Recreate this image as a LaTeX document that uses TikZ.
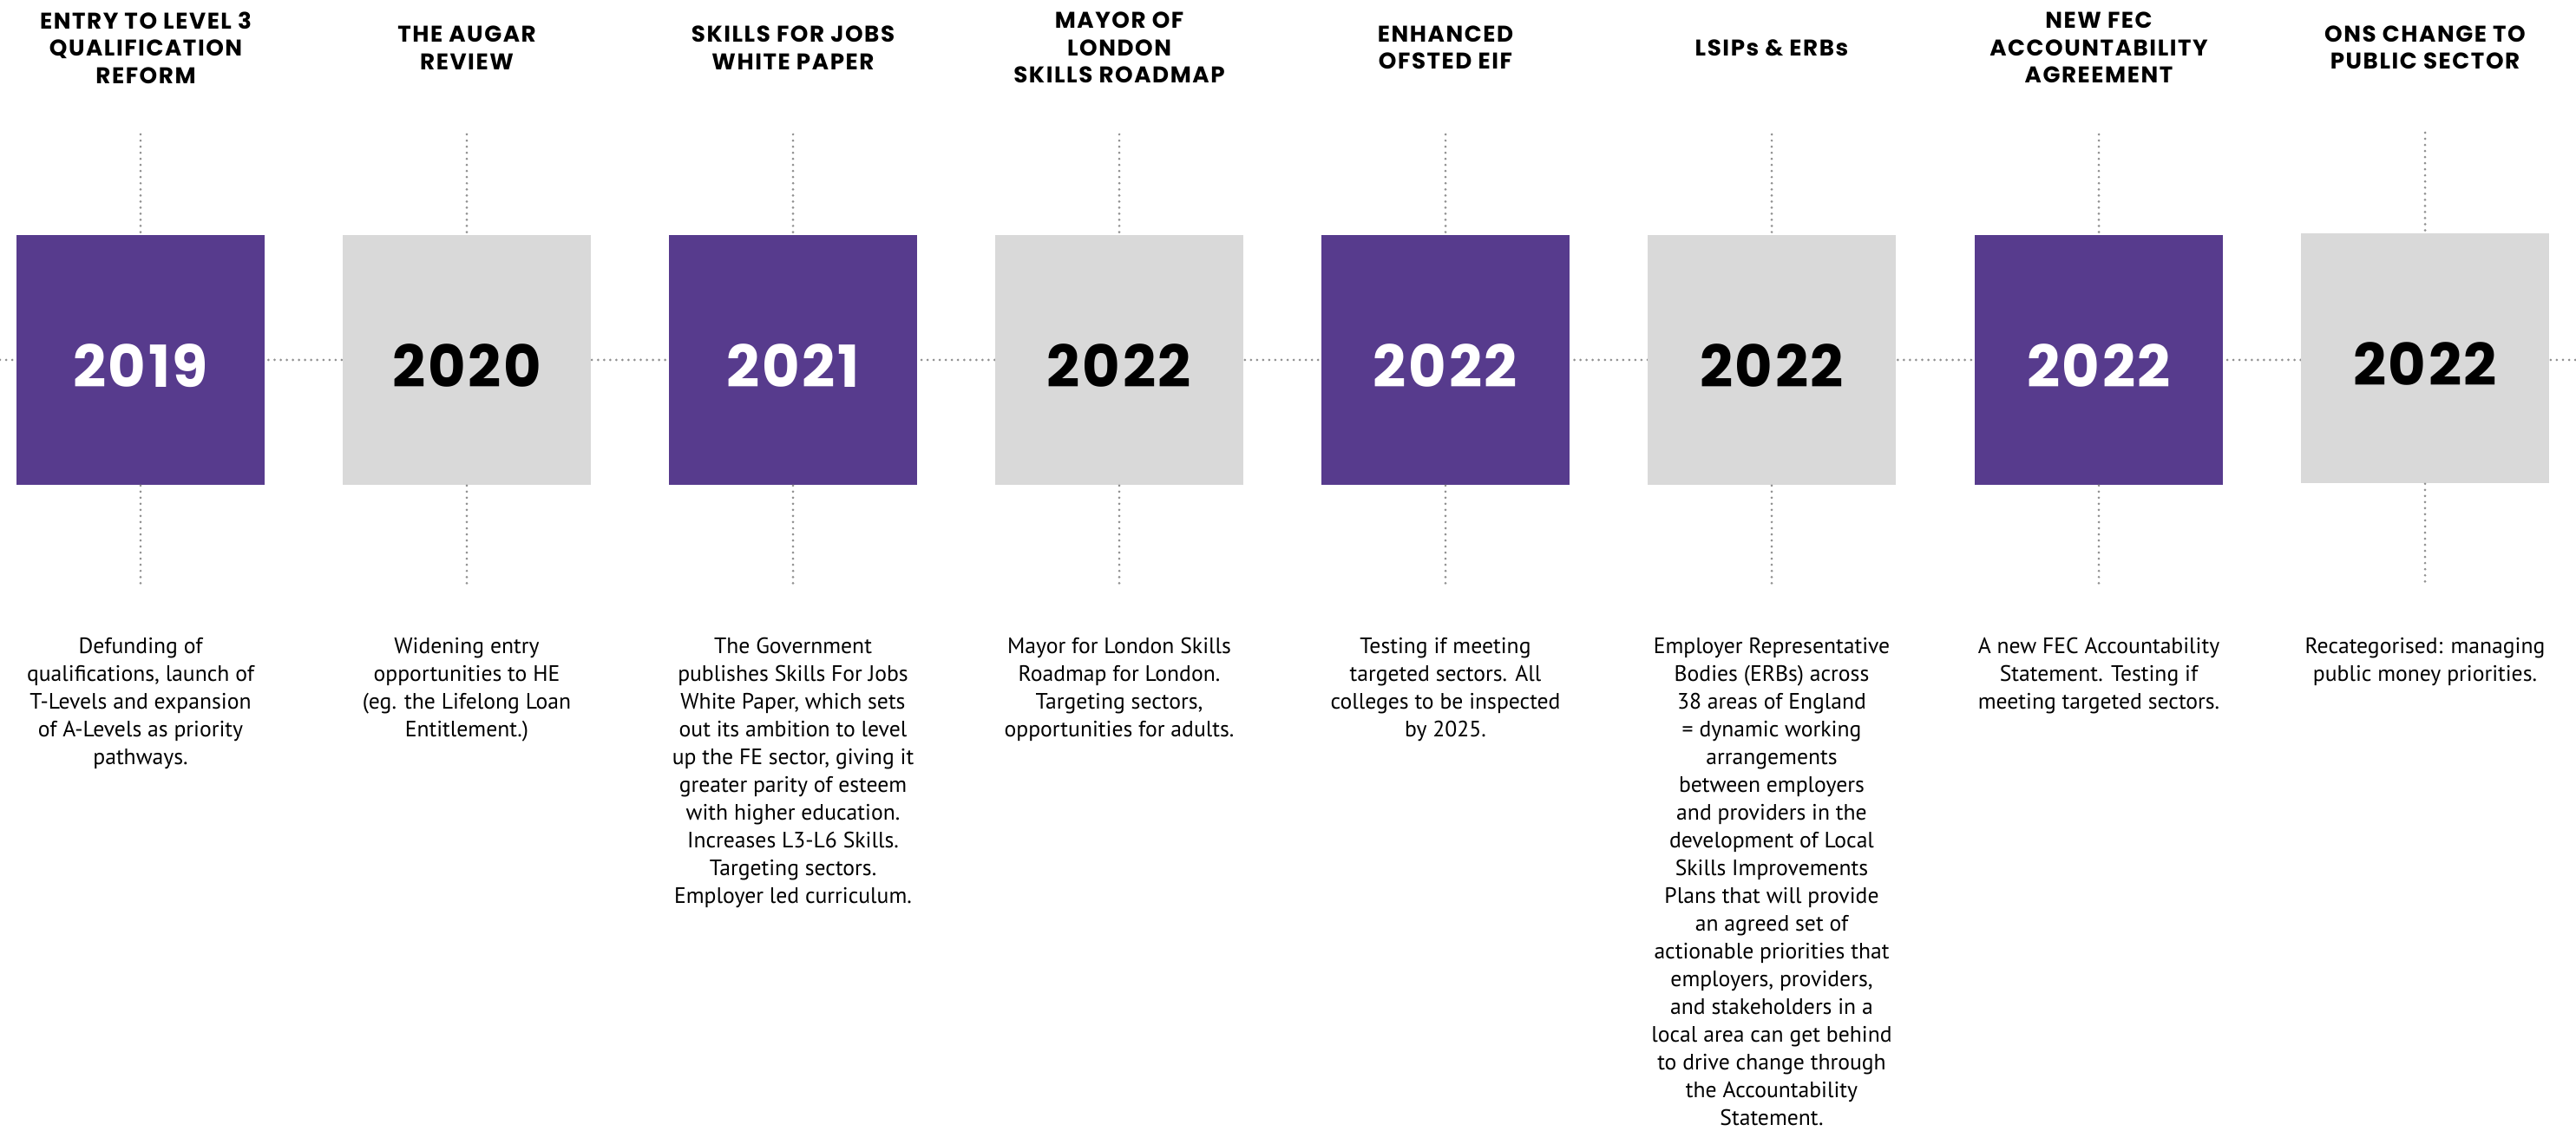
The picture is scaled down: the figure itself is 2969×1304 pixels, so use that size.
\documentclass[tikz,border=0pt]{standalone}
\usepackage{fontspec}
\setmainfont{PT Sans}
\newfontfamily\headfont{Poppins}[LetterSpace=6]
\newfontfamily\yearfont{Poppins}[LetterSpace=4]
\definecolor{tlpurple}{HTML}{573B8D}
\definecolor{tlgrey}{HTML}{D9D9D9}
\definecolor{tldots}{HTML}{8F8F8F}
\tikzset{
	yearbox/.style={minimum width=2.86cm, minimum height=2.88cm, inner sep=0pt},
	purplebox/.style={yearbox, fill=tlpurple},
	greybox/.style={yearbox, fill=tlgrey},
	yeartext/.style={font=\yearfont\bfseries\fontsize{19}{20}\selectfont, inner sep=0pt},
	headtext/.style={font=\headfont\bfseries\fontsize{7.45}{8.96}\selectfont, align=center, inner sep=0pt},
	bodytext/.style={font=\fontsize{7.3}{9.1}\selectfont, align=center, inner sep=0pt, anchor=north},
	dotline/.style={tldots, line width=0.85pt, line cap=round, dash pattern=on 0pt off 2pt},
}

\begin{document}
\begin{tikzpicture}[x=0.01cm, y=-0.01cm]
		%%%%% START %%%%%
		\useasboundingbox (0, 0) rectangle (2969, 1304);
		
		\draw[dotline] (0, 415) -- (2969, 415);
		
		% 2019
		\node[headtext] (h1) at (168, 55) {ENTRY TO LEVEL 3\\QUALIFICATION\\REFORM};
		\node[purplebox] (b1) at (162, 415) {};
		\node[yeartext, white] (y1) at (162, 422) {2019};
		\coordinate (u1) at (162, 155);
		\coordinate (d1) at (162, 676);
		\draw[dotline] (u1) -- (b1.north);
		\draw[dotline] (b1.south) -- (d1);
		\node[bodytext] (t1) at (162, 735) {Defunding of\\qualifications, launch of\\T-Levels and expansion\\of A-Levels as priority\\pathways.};
		
		% 2020
		\node[headtext] (h2) at (538, 55) {THE AUGAR\\REVIEW};
		\node[greybox] (b2) at (538, 415) {};
		\node[yeartext] (y2) at (538, 422) {2020};
		\coordinate (u2) at (538, 155);
		\coordinate (d2) at (538, 676);
		\draw[dotline] (u2) -- (b2.north);
		\draw[dotline] (b2.south) -- (d2);
		\node[bodytext] (t2) at (538, 735) {Widening entry\\opportunities to HE\\(eg. the Lifelong Loan\\Entitlement.)};
		
		% 2021
		\node[headtext] (h3) at (914, 55) {SKILLS FOR JOBS\\WHITE PAPER};
		\node[purplebox] (b3) at (914, 415) {};
		\node[yeartext, white] (y3) at (914, 422) {2021};
		\coordinate (u3) at (914, 155);
		\coordinate (d3) at (914, 676);
		\draw[dotline] (u3) -- (b3.north);
		\draw[dotline] (b3.south) -- (d3);
		\node[bodytext] (t3) at (914, 735) {The Government\\publishes Skills For Jobs\\White Paper, which sets\\out its ambition to level\\up the FE sector, giving it\\greater parity of esteem\\with higher education.\\Increases L3-L6 Skills.\\Targeting sectors.\\Employer led curriculum.};
		
		% 2022 london
		\node[headtext] (h4) at (1290, 55) {MAYOR OF\\LONDON\\SKILLS ROADMAP};
		\node[greybox] (b4) at (1290, 415) {};
		\node[yeartext] (y4) at (1290, 422) {2022};
		\coordinate (u4) at (1290, 155);
		\coordinate (d4) at (1290, 676);
		\draw[dotline] (u4) -- (b4.north);
		\draw[dotline] (b4.south) -- (d4);
		\node[bodytext] (t4) at (1290, 735) {Mayor for London Skills\\Roadmap for London.\\Targeting sectors,\\opportunities for adults.};
		
		% 2022 ofsted
		\node[headtext] (h5) at (1666, 55) {ENHANCED\\OFSTED EIF};
		\node[purplebox] (b5) at (1666, 415) {};
		\node[yeartext, white] (y5) at (1666, 422) {2022};
		\coordinate (u5) at (1666, 155);
		\coordinate (d5) at (1666, 676);
		\draw[dotline] (u5) -- (b5.north);
		\draw[dotline] (b5.south) -- (d5);
		\node[bodytext] (t5) at (1666, 735) {Testing if meeting\\targeted sectors. All\\colleges to be inspected\\by 2025.};
		
		% 2022 lsips
		\node[headtext] (h6) at (2042, 55) {LSIPs \& ERBs};
		\node[greybox] (b6) at (2042, 415) {};
		\node[yeartext] (y6) at (2042, 422) {2022};
		\coordinate (u6) at (2042, 155);
		\coordinate (d6) at (2042, 676);
		\draw[dotline] (u6) -- (b6.north);
		\draw[dotline] (b6.south) -- (d6);
		\node[bodytext] (t6) at (2042, 735) {Employer Representative\\Bodies (ERBs) across\\38 areas of England\\= dynamic working\\arrangements\\between employers\\and providers in the\\development of Local\\Skills Improvements\\Plans that will provide\\an agreed set of\\actionable priorities that\\employers, providers,\\and stakeholders in a\\local area can get behind\\to drive change through\\the Accountability\\Statement.};
		
		% 2022 fec
		\node[headtext] (h7) at (2419, 55) {NEW FEC\\ACCOUNTABILITY\\AGREEMENT};
		\node[purplebox] (b7) at (2419, 415) {};
		\node[yeartext, white] (y7) at (2419, 422) {2022};
		\coordinate (u7) at (2419, 155);
		\coordinate (d7) at (2419, 676);
		\draw[dotline] (u7) -- (b7.north);
		\draw[dotline] (b7.south) -- (d7);
		\node[bodytext] (t7) at (2419, 735) {A new FEC Accountability\\Statement. Testing if\\meeting targeted sectors.};
		
		% 2022 ons
		\node[headtext] (h8) at (2795, 55) {ONS CHANGE TO\\PUBLIC SECTOR};
		\node[greybox] (b8) at (2795, 413) {};
		\node[yeartext] (y8) at (2795, 420) {2022};
		\coordinate (u8) at (2795, 153);
		\coordinate (d8) at (2795, 676);
		\draw[dotline] (u8) -- (b8.north);
		\draw[dotline] (b8.south) -- (d8);
		\node[bodytext] (t8) at (2795, 735) {Recategorised: managing\\public money priorities.};
		
		%%%%% END %%%%%
\end{tikzpicture}
\end{document}
